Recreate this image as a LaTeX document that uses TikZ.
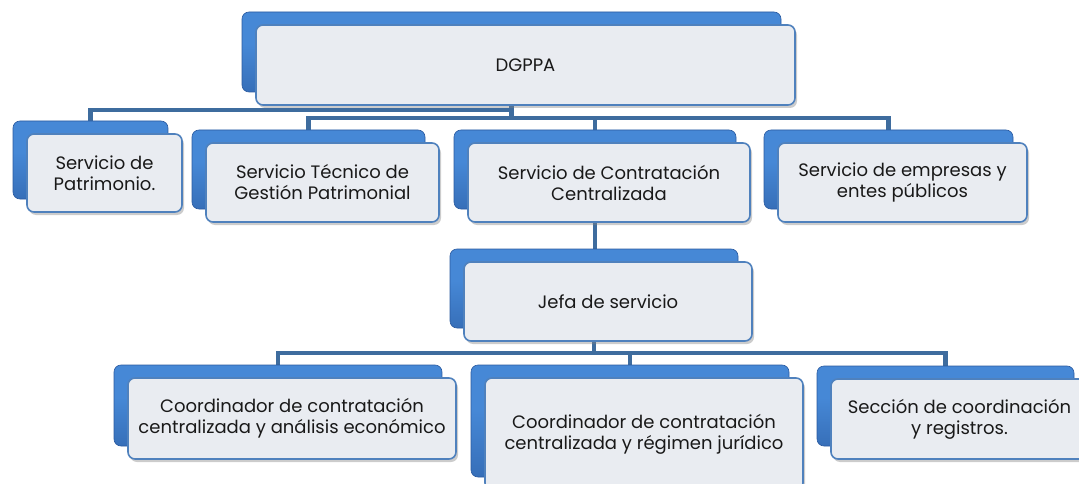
\documentclass[tikz,border=0pt]{standalone}
\usepackage{fontspec}
\setmainfont{Poppins}
\usetikzlibrary{shadows,backgrounds}
\definecolor{linkblue}{RGB}{62,108,158}
\definecolor{edgeblue}{RGB}{79,129,189}
\definecolor{paper}{RGB}{233,236,241}
\definecolor{bluehi}{RGB}{135,195,248}
\definecolor{bluemid}{RGB}{70,136,214}
\definecolor{bluelo}{RGB}{42,90,160}
\pgfdeclareverticalshading{polished}{100bp}{color(0bp)=(bluelo); color(55bp)=(bluemid); color(86bp)=(bluemid); color(96bp)=(bluehi); color(100bp)=(bluehi)}
\tikzset{
  back/.style={rounded corners=7pt, shading=polished, draw=bluelo, line width=0.6pt},
  front/.style={rounded corners=7pt, fill=paper, draw=edgeblue, line width=1.6pt, align=center,
    font=\fontsize{18}{21}\selectfont, text=black!90, drop shadow={shadow xshift=2pt, shadow yshift=-3pt, opacity=.4}},
  link/.style={draw=linkblue, line width=4.5pt}
}
\begin{document}
\begin{tikzpicture}[x=1pt,y=-1pt]
  \useasboundingbox (0,0) rectangle (1079,484);
  \coordinate (busA) at (0,110);
  \coordinate (busB) at (0,118);
  \coordinate (busC) at (0,353);

  \node[back, minimum width=539, minimum height=80] (dgppa) at (511.5,52) {};
  \node[front, minimum width=539, minimum height=80] (dgppa-t) at ([shift={(14,13)}]dgppa.center) {DGPPA};

  \node[back, minimum width=155, minimum height=78] (patri) at (90.5,160) {};
  \node[front, minimum width=155, minimum height=78] (patri-t) at ([shift={(14,13)}]patri.center) {Servicio de\\Patrimonio.};
  \node[back, minimum width=233, minimum height=79] (tecnico) at (308.5,169.5) {};
  \node[front, minimum width=233, minimum height=79] (tecnico-t) at ([shift={(14,13)}]tecnico.center) {Servicio Técnico de\\Gestión Patrimonial};
  \node[back, minimum width=282, minimum height=79] (contrat) at (595,169.5) {};
  \node[front, minimum width=282, minimum height=79] (contrat-t) at ([shift={(14,13)}]contrat.center) {Servicio de Contratación\\Centralizada};
  \node[back, minimum width=249, minimum height=79] (empresas) at (888.5,169.5) {};
  \node[front, minimum width=249, minimum height=79] (empresas-t) at ([shift={(14,13)}]empresas.center) {Servicio de empresas y\\entes públicos};

  \node[back, minimum width=288, minimum height=79] (jefa) at (594,288.5) {};
  \node[front, minimum width=288, minimum height=79] (jefa-t) at ([shift={(14,13)}]jefa.center) {Jefa de servicio};

  \node[back, minimum width=328, minimum height=81] (coord1) at (278,405.5) {};
  \node[front, minimum width=328, minimum height=81] (coord1-t) at ([shift={(14,13)}]coord1.center) {Coordinador de contratación\\centralizada y análisis económico};
  \node[back, minimum width=318, minimum height=112] (coord2) at (630,421) {};
  \node[front, minimum width=318, minimum height=112] (coord2-t) at ([shift={(14,13)}]coord2.center) {Coordinador de contratación\\centralizada y régimen jurídico};
  \node[back, minimum width=257, minimum height=80] (seccion) at (945.5,406) {};
  \node[front, minimum width=257, minimum height=80] (seccion-t) at ([shift={(14,13)}]seccion.center) {Sección de coordinación\\y registros.};

  \begin{scope}[on background layer]
    \draw[link] (dgppa.south) |- (patri.north |- busA) -- (patri.north);
    \draw[link] (dgppa.south) |- (tecnico.north |- busB) -- (tecnico.north);
    \draw[link] (dgppa.south) |- (contrat.north |- busB) -- (contrat.north);
    \draw[link] (dgppa.south) |- (empresas.north |- busB) -- (empresas.north);
    \draw[link] (contrat.south) -- (contrat.south |- jefa.north);
    \draw[link] (jefa.south) |- (coord1.north |- busC) -- (coord1.north);
    \draw[link] (jefa.south) |- (coord2.north |- busC) -- (coord2.north);
    \draw[link] (jefa.south) |- (seccion.north |- busC) -- (seccion.north);
  \end{scope}
\end{tikzpicture}
\end{document}
